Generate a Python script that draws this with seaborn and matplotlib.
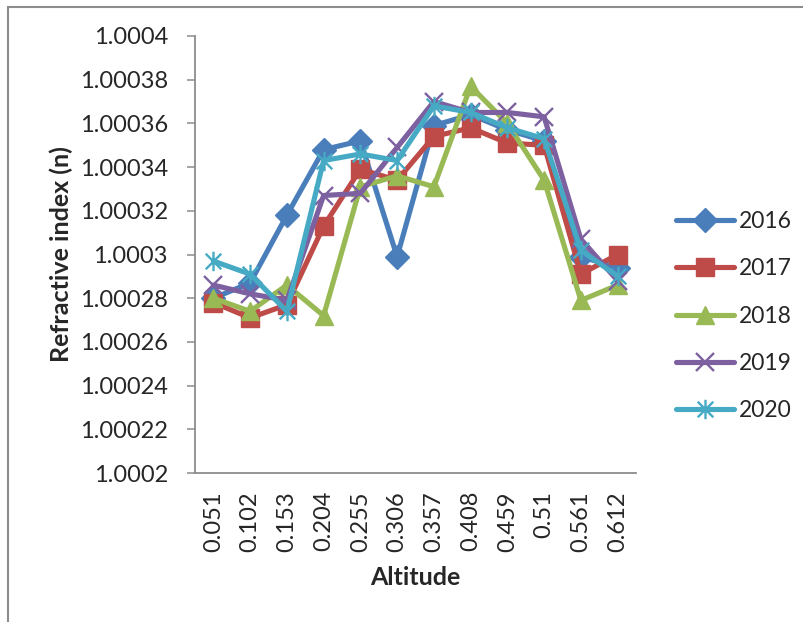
import matplotlib
matplotlib.use("Agg")
import matplotlib.pyplot as plt
import seaborn as sns
import pandas as pd
from matplotlib.path import Path
from matplotlib.patches import Rectangle

# Altitude categories along the x axis
altitudes = ["0.051", "0.102", "0.153", "0.204", "0.255", "0.306",
             "0.357", "0.408", "0.459", "0.51", "0.561", "0.612"]

# Refractive index per year
n_2016 = [1.000280, 1.000287, 1.000318, 1.000348, 1.000352, 1.000299,
          1.000359, 1.000364, 1.000357, 1.000352, 1.000299, 1.000294]
n_2017 = [1.000278, 1.000271, 1.000277, 1.000313, 1.000339, 1.000334,
          1.000354, 1.000358, 1.000351, 1.000350, 1.000291, 1.000300]
n_2018 = [1.000280, 1.000274, 1.000286, 1.000272, 1.000331, 1.000336,
          1.000331, 1.000377, 1.000360, 1.000334, 1.000279, 1.000286]
n_2019 = [1.000286, 1.000282, 1.000279, 1.000327, 1.000328, 1.000349,
          1.000370, 1.000365, 1.000365, 1.000363, 1.000307, 1.000288]
n_2020 = [1.000297, 1.000291, 1.000274, 1.000343, 1.000346, 1.000343,
          1.000368, 1.000365, 1.000358, 1.000353, 1.000302, 1.000290]

years = ["2016", "2017", "2018", "2019", "2020"]
series = [n_2016, n_2017, n_2018, n_2019, n_2020]

# Y axis ticks and their labels
y_ticks = [1.0002, 1.00022, 1.00024, 1.00026, 1.00028, 1.0003,
           1.00032, 1.00034, 1.00036, 1.00038, 1.0004]
y_tick_labels = ["1.0002", "1.00022", "1.00024", "1.00026", "1.00028", "1.0003",
                 "1.00032", "1.00034", "1.00036", "1.00038", "1.0004"]

colors = ["#4A7EBB", "#BE4B48", "#98B954", "#7D60A0", "#46AAC5"]

# asterisk marker: an x with a vertical stroke
asterisk = Path(
    [(0, -1), (0, 1), (-0.8, -0.8), (0.8, 0.8), (-0.8, 0.8), (0.8, -0.8)],
    [Path.MOVETO, Path.LINETO, Path.MOVETO, Path.LINETO, Path.MOVETO, Path.LINETO],
)
marker_styles = [
    dict(marker="D", markersize=12),
    dict(marker="s", markersize=12.5),
    dict(marker="^", markersize=13.5),
    dict(marker="x", markersize=12.5, markeredgewidth=1.7),
    dict(marker=asterisk, markersize=14, markeredgewidth=1.7),
]

sns.set_theme(style="white")
plt.rcParams["font.family"] = ["Lato", "DejaVu Sans"]

fig = plt.figure(figsize=(8.04, 6.22), dpi=100)
ax = fig.add_axes([195 / 804, 149 / 622, 441 / 804, 437 / 622])

pos = list(range(len(altitudes)))
for year, vals, col, ms in zip(years, series, colors, marker_styles):
    df = pd.DataFrame({"pos": pos, "n": vals})
    kw = dict(ms)
    kw.setdefault("markeredgewidth", 1.0)
    sns.lineplot(data=df, x="pos", y="n", ax=ax, color=col, linewidth=3.7,
                 markeredgecolor=col, markerfacecolor=col, label=year, **kw)

ax.set_xlim(-0.5, len(altitudes) - 0.5)
ax.set_ylim(1.0002, 1.0004)
ax.set_xticks(pos)
ax.set_xticklabels(altitudes, rotation=90, fontsize=17)
ax.set_yticks(y_ticks)
ax.set_yticklabels(y_tick_labels, fontsize=17)

for side in ("top", "right"):
    ax.spines[side].set_visible(False)
for side in ("left", "bottom"):
    ax.spines[side].set_color("#8C8C8C")
    ax.spines[side].set_linewidth(1.3)

ax.tick_params(axis="y", direction="out", length=5.5, width=1.1, color="#8C8C8C",
               pad=14, left=True)
ax.tick_params(axis="x", length=0, pad=13)

ax.set_xlabel("Altitude", fontsize=18, fontweight="bold")
ax.set_ylabel("Refractive index (n)", fontsize=18, fontweight="bold")
ax.yaxis.set_label_coords(-0.277, 0.5)
ax.xaxis.set_label_coords(0.5, -0.212)

leg = ax.legend(loc="center left", bbox_to_anchor=(1.07, 0.359), frameon=False,
                fontsize=16.5, handlelength=2.55, labelspacing=1.15,
                handletextpad=0.2, borderaxespad=0)

# outer chart frame (left and top edges)
fig.patches.append(Rectangle((8 / 804, -0.1), 1.2, (622 - 7) / 622 + 0.1,
                             transform=fig.transFigure, fill=False,
                             edgecolor="#8C8C8C", linewidth=1.5))

fig.savefig("out.png", dpi=100)
